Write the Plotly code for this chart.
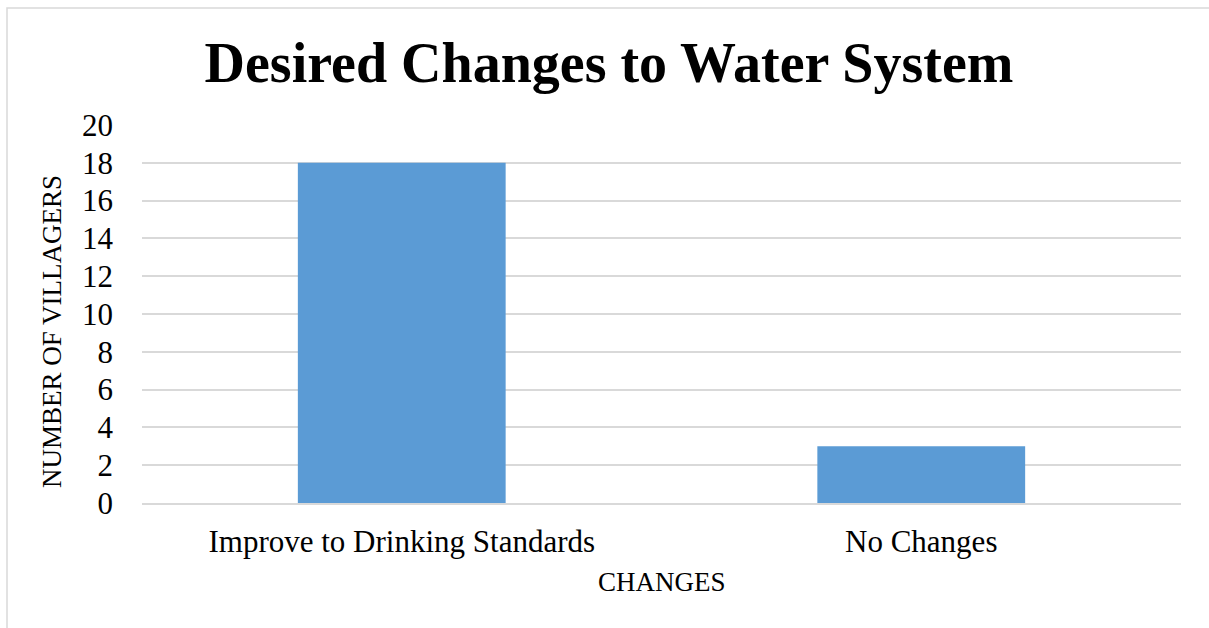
import plotly.graph_objects as go

categories = ["Improve to Drinking Standards", "No Changes"]
villagers = [18, 3]
y_ticks = [0, 2, 4, 6, 8, 10, 12, 14, 16, 18, 20]

W, H = 1209, 628
ml, mr, mt, mb = 142, 28, 125, 125
pw, ph = W - ml - mr, H - mt - mb

font = "Liberation Serif"
tick_fs = 31
title_fs = 27

fig = go.Figure(go.Bar(x=categories, y=villagers, marker=dict(color="#5B9BD5", line=dict(width=0)),
                       width=0.4))

fig.update_layout(
    width=W, height=H,
    margin=dict(l=ml, r=mr, t=mt, b=mb),
    paper_bgcolor="white", plot_bgcolor="white",
    font=dict(family=font, color="black", size=tick_fs),
    title=dict(text="<b>Desired Changes to Water System</b>", x=609 / W, xref="container", xanchor="center",
               y=1 - 62 / H, yanchor="middle", font=dict(family=font, size=56, color="black")),
    showlegend=False,
)
fig.update_yaxes(range=[0, 20], tickvals=y_ticks, showgrid=True, gridcolor="#d9d9d9", gridwidth=1.5,
                 zeroline=False, showline=False, ticks="", ticklabelstandoff=28,
                 tickfont=dict(size=tick_fs, family=font))
fig.update_xaxes(showline=True, linecolor="#d9d9d9", linewidth=1.5, ticks="", ticklabelstandoff=10,
                 tickfont=dict(size=tick_fs, family=font))

# axis titles
fig.add_annotation(text="NUMBER OF VILLAGERS", xref="paper", yref="paper",
                   x=(52 - ml) / pw, y=(H - mb - 332) / ph, textangle=-90,
                   showarrow=False, font=dict(size=title_fs, family=font), xanchor="center", yanchor="middle")
fig.add_annotation(text="CHANGES", xref="paper", yref="paper",
                   x=0.5, y=(H - mb - 582) / ph,
                   showarrow=False, font=dict(size=title_fs, family=font), xanchor="center", yanchor="middle")

# outer chart frame (partially visible)
fig.add_shape(type="rect", xref="paper", yref="paper",
              x0=(7 - ml) / pw, x1=(W + 20 - ml) / pw,
              y0=-(mb + 20) / ph, y1=(H - mb - 8) / ph,
              line=dict(color="#d9d9d9", width=1.5), fillcolor="rgba(0,0,0,0)", layer="below")

fig.write_html("out.html")
